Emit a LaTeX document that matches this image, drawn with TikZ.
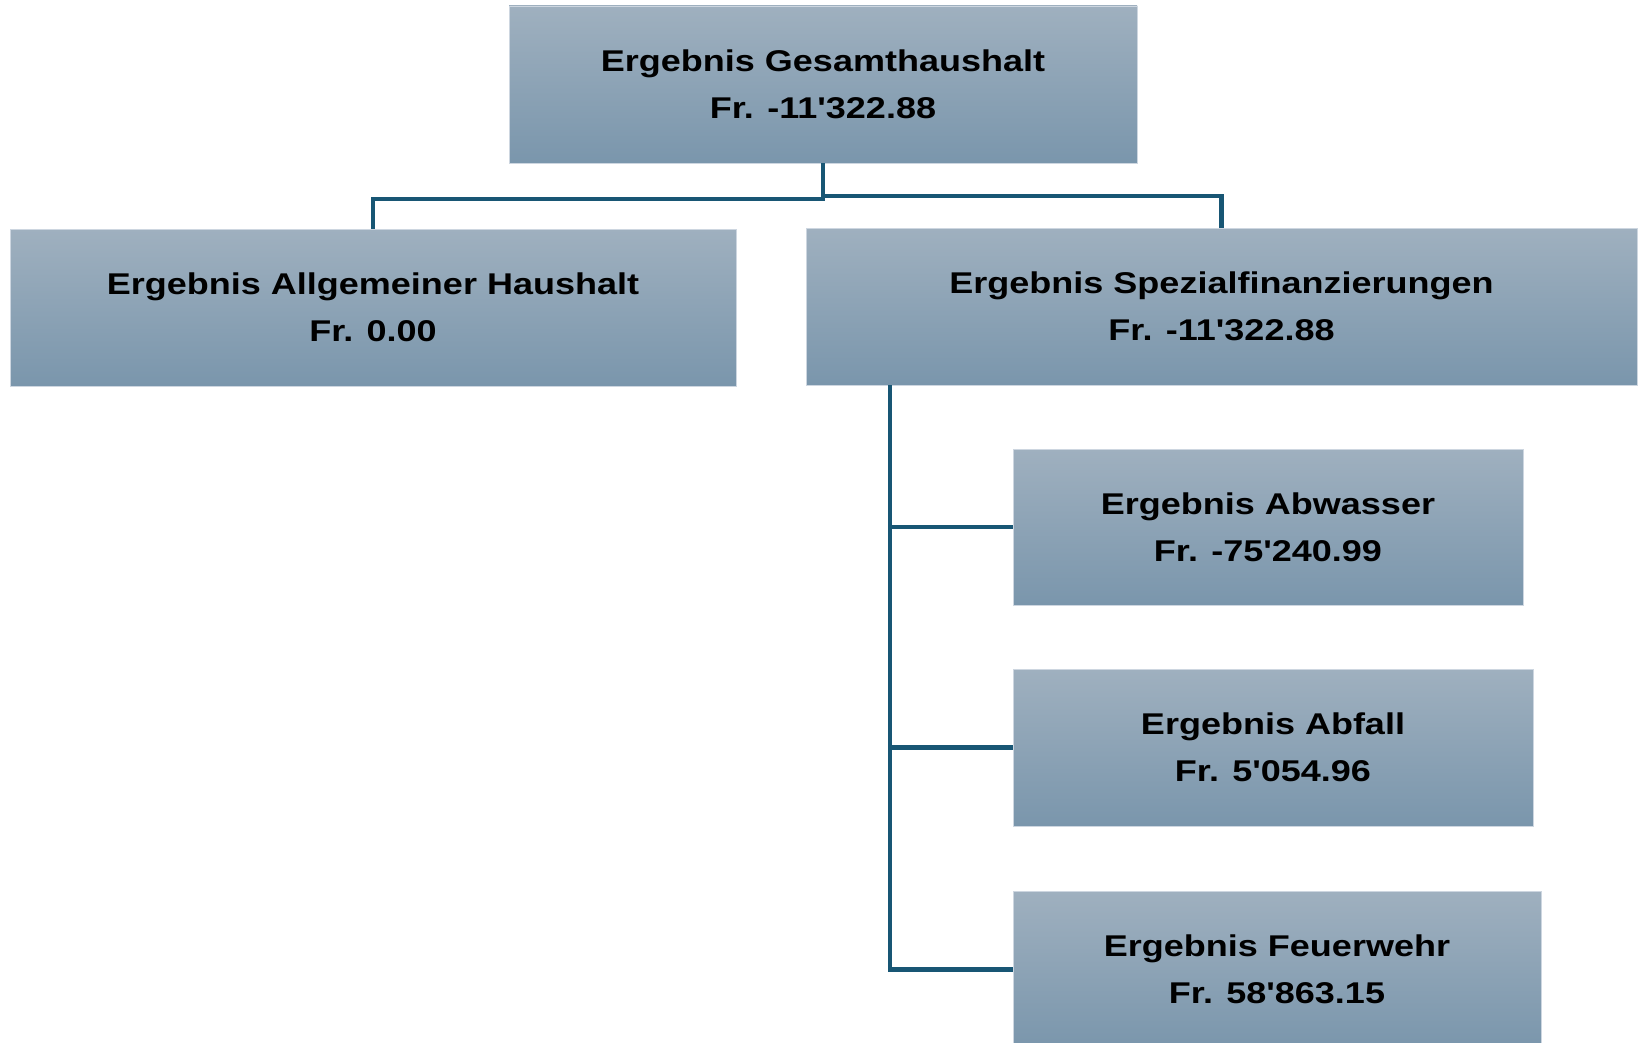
\documentclass[tikz,border=0pt]{standalone}
\usepackage{fontspec}
\newfontfamily\nodefont{Liberation Sans}[FakeStretch=1.2]
\definecolor{boxtop}{RGB}{159,176,191}
\definecolor{boxbot}{RGB}{122,150,172}
\definecolor{boxline}{RGB}{205,214,224}
\definecolor{conncol}{RGB}{24,86,116}
\tikzset{
  orgbox/.style={rectangle, top color=boxtop, bottom color=boxbot, draw=boxline, line width=0.8pt,
    inner sep=0pt, align=center, font=\nodefont\bfseries\fontsize{30pt}{47pt}\selectfont},
  conn/.style={draw=conncol, line width=4.2pt}
}
\begin{document}
\begin{tikzpicture}[x=1pt,y=-1pt]
\useasboundingbox (0,0) rectangle (1640,1043);
\fill[white] (0,0) rectangle (1640,1043);
\node[orgbox, minimum width=628pt, minimum height=157pt] (top) at (823,84.5) {Ergebnis Gesamthaushalt\\Fr. -11'322.88};
\node[orgbox, minimum width=726pt, minimum height=157pt] (allg) at (373,307.5) {Ergebnis Allgemeiner Haushalt\\Fr. 0.00};
\node[orgbox, minimum width=831pt, minimum height=157pt] (spez) at (1221.5,306.5) {Ergebnis Spezialfinanzierungen\\Fr. -11'322.88};
\node[orgbox, minimum width=510pt, minimum height=156pt] (abw) at (1268,527) {Ergebnis Abwasser\\Fr. -75'240.99};
\node[orgbox, minimum width=520pt, minimum height=157pt] (abf) at (1273,747.5) {Ergebnis Abfall\\Fr. 5'054.96};
\node[orgbox, minimum width=528pt, minimum height=157pt] (feu) at (1277,969.5) {Ergebnis Feuerwehr\\Fr. 58'863.15};
\draw[conn] (top.south) -- ++(0,36) -| (allg.north);
\draw[conn] ([yshift=-33pt]top.south) -| (spez.north);
\coordinate (trunk) at ([xshift=84pt]spez.south west);
\draw[conn] (trunk) |- (feu.west);
\draw[conn] (abw.west) -- (abw.west -| trunk);
\draw[conn] (abf.west) -- (abf.west -| trunk);
\end{tikzpicture}
\end{document}
